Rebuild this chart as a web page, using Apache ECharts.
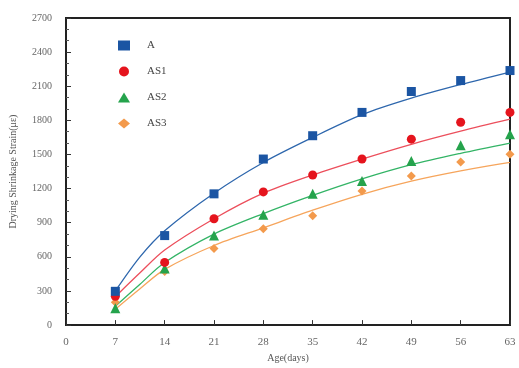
<!DOCTYPE html>
<html>
<head>
<meta charset="utf-8">
<script src="https://cdn.jsdelivr.net/npm/echarts@6/dist/echarts.min.js"></script>
<style>
  html, body { margin: 0; padding: 0; background: #fff; }
  #chart { width: 519px; height: 368px; }
</style>
</head>
<body>
<div id="chart"></div>
<script>
// measured ages (days)
var days = [7, 14, 21, 28, 35, 42, 49, 56, 63];
var seriesNames = ["A", "AS1", "AS2", "AS3"];
// measured strain (με)
var valA   = [297, 787, 1154, 1460, 1665, 1870, 2054, 2150, 2238];
var valAS1 = [253, 551, 935, 1171, 1320, 1460, 1635, 1783, 1870];
var valAS2 = [149, 498, 787, 970, 1154, 1267, 1442, 1582, 1678];
var valAS3 = [201, 472, 673, 848, 962, 1180, 1311, 1433, 1503];
// fitted curves
var fitDays = [7, 10.5, 14, 21, 28, 35, 42, 49, 56, 63];
var fitA   = [300, 600, 830, 1160, 1430, 1650, 1850, 1995, 2115, 2225];
var fitAS1 = [250, 460, 660, 935, 1160, 1320, 1460, 1590, 1705, 1810];
var fitAS2 = [165, 360, 550, 800, 980, 1140, 1285, 1410, 1510, 1600];
var fitAS3 = [140, 320, 490, 700, 855, 1010, 1150, 1265, 1355, 1430];
var yTicks = [0, 2700, 300];

function pairs(xs, ys) {
  return xs.map(function (x, i) { return [x, ys[i]]; });
}

var colors = ["#1b55a3", "#e5141d", "#25a34c", "#f39a4c"];
var lineColors = ["#2e67ad", "#ec4f5c", "#33b466", "#f6a55c"];
var symbols = ["rect", "circle", "triangle", "diamond"];
var values = [valA, valAS1, valAS2, valAS3];
var fits = [fitA, fitAS1, fitAS2, fitAS3];

var series = [];
fits.forEach(function (f, i) {
  series.push({
    name: seriesNames[i] + "-fit",
    type: "line",
    data: pairs(fitDays, f),
    smooth: 0.3,
    showSymbol: false,
    silent: true,
    lineStyle: { width: 1.3, color: lineColors[i] },
    z: 2
  });
});
// blue drawn last so it sits on top at day 7
[3, 2, 1, 0].forEach(function (i) {
  series.push({
    name: seriesNames[i],
    type: "scatter",
    data: pairs(days, values[i]),
    symbol: symbols[i],
    symbolSize: i === 2 ? 10 : 9,
    itemStyle: { color: colors[i], opacity: 1 },
    z: 3
  });
});

var font = "'Liberation Serif', 'DejaVu Serif', serif";
var chart = echarts.init(document.getElementById("chart"));
var option = {
  animation: false,
  textStyle: { fontFamily: font },
  grid: {
    left: 64, right: 9, top: 18, bottom: 41,
    show: true, borderColor: "#222", borderWidth: 2
  },
  legend: {
    data: seriesNames,
    orient: "vertical",
    left: 113, top: 35,
    itemGap: 15,
    itemWidth: 12, itemHeight: 10,
    textStyle: { fontFamily: font, fontSize: 11, color: "#444", padding: [0, 0, 0, 12] }
  },
  xAxis: {
    type: "value",
    min: 0, max: 63, interval: 7,
    name: "Age(days)",
    nameLocation: "middle",
    nameGap: 27,
    nameTextStyle: { fontFamily: font, fontSize: 10, color: "#555" },
    axisLine: { lineStyle: { color: "#222", width: 2 } },
    axisTick: { inside: true, length: 5, lineStyle: { color: "#333" } },
    axisLabel: { fontFamily: font, fontSize: 11, color: "#666", margin: 12 },
    splitLine: { show: false }
  },
  yAxis: {
    type: "value",
    min: yTicks[0], max: yTicks[1], interval: yTicks[2],
    name: "Drying Shrinkage Strain(με)",
    nameLocation: "middle",
    nameGap: 48,
    nameTextStyle: { fontFamily: font, fontSize: 10, color: "#555" },
    axisLine: { show: true, lineStyle: { color: "#222", width: 2 } },
    axisTick: { show: true, inside: true, length: 5, lineStyle: { color: "#333" } },
    minorTick: { show: true, splitNumber: 3, length: 3, lineStyle: { color: "#555" } },
    axisLabel: {
      fontFamily: font, fontSize: 10, color: "#666", margin: 14,
      formatter: function (v) { return String(v); }
    },
    splitLine: { show: false }
  },
  series: series
};
chart.setOption(option);
</script>
</body>
</html>
